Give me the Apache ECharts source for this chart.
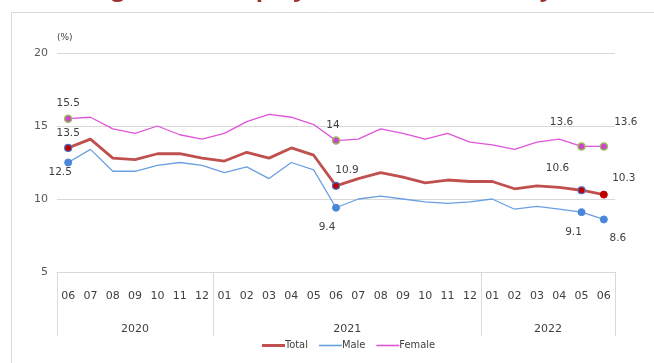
<!DOCTYPE html>
<html>
<head>
<meta charset="utf-8">
<script src="https://cdn.jsdelivr.net/npm/echarts@6/dist/echarts.min.js"></script>
<style>
  html, body { margin: 0; padding: 0; background: #ffffff; }
  #chart { width: 654px; height: 363px; }
</style>
</head>
<body>
<div id="chart"></div>
<script>
// Month labels (June 2020 – June 2022) and the year groups below them
const months = ['06','07','08','09','10','11','12','01','02','03','04','05','06','07','08','09','10','11','12','01','02','03','04','05','06'];
const years = ['2020', '2021', '2022'];
const yearSpans = [7, 12, 6];

// Unemployment rate, %
const total  = [13.5, 14.1, 12.8, 12.7, 13.1, 13.1, 12.8, 12.6, 13.2, 12.8, 13.5, 13.0, 10.9, 11.4, 11.8, 11.5, 11.1, 11.3, 11.2, 11.2, 10.7, 10.9, 10.8, 10.6, 10.3];
const male   = [12.5, 13.4, 11.9, 11.9, 12.3, 12.5, 12.3, 11.8, 12.2, 11.4, 12.5, 12.0, 9.4, 10.0, 10.2, 10.0, 9.8, 9.7, 9.8, 10.0, 9.3, 9.5, 9.3, 9.1, 8.6];
const female = [15.5, 15.6, 14.8, 14.5, 15.0, 14.4, 14.1, 14.5, 15.3, 15.8, 15.6, 15.1, 14.0, 14.1, 14.8, 14.5, 14.1, 14.5, 13.9, 13.7, 13.4, 13.9, 14.1, 13.6, 13.6];

// Months whose values are marked and labelled
const labelled = [0, 12, 23, 24];

// Value-axis ticks
const yMin = 5, yMax = 20, yStep = 5;

// Label offsets (px) around each marked point
const totalOffsets  = [[0, -15], [11, -16], [-24, -22], [20, -16]];
const maleOffsets   = [[-8, 10], [-9, 20], [-8, 20], [14, 19]];
const femaleOffsets = [[0, -15], [-3, -15], [-20, -24], [22, -24]];

const LABEL_FONT = 'DejaVu Sans';

function buildData(values, offsets, markerStyles) {
  return values.map(function (v, i) {
    const k = labelled.indexOf(i);
    if (k < 0) return v;
    return {
      value: v,
      symbol: 'circle',
      symbolSize: 7,
      itemStyle: markerStyles[k],
      label: {
        show: true,
        position: 'inside',
        offset: offsets[k],
        formatter: '{c}',
        color: '#404040',
        fontFamily: LABEL_FONT,
        fontSize: 10.5
      }
    };
  });
}

const redDot  = { color: '#C00000', borderColor: '#4472C4', borderWidth: 1.2 };
const redEnd  = { color: '#C00000', borderColor: '#C00000', borderWidth: 1 };
const blueDot = { color: '#4A86D8', borderColor: '#4A86D8', borderWidth: 1 };
const pinkDot = { color: '#CC44CC', borderColor: '#9BBB59', borderWidth: 1.5 };

// Year axis: half-month positions so group edges and group centres fall on categories
const halfSlots = months.length * 2 + 1;
const yearCats = new Array(halfSlots).fill('');
const edgeSlots = [0];
let acc = 0;
yearSpans.forEach(function (span, i) {
  yearCats[acc * 2 + span] = years[i];
  acc += span;
  edgeSlots.push(acc * 2);
});

const chart = echarts.init(document.getElementById('chart'), null, { renderer: 'canvas' });

chart.setOption({
  animation: false,
  backgroundColor: '#ffffff',
  title: {
    text: 'Changes in unemployment rates, monthly',
    left: 45,
    top: -28,
    textStyle: { color: '#A0302E', fontSize: 24, fontWeight: 'bold', fontFamily: 'Open Sans' }
  },
  graphic: [
    {
      type: 'polyline',
      silent: true,
      shape: { points: [[11.5, 363], [11.5, 12.5], [654, 12.5]] },
      style: { stroke: '#D9D9D9', lineWidth: 1, fill: null }
    }
  ],
  grid: { left: 57, right: 39, top: 53, bottom: 91, containLabel: false },
  legend: {
    bottom: 7,
    left: 257,
    itemWidth: 23,
    itemHeight: 10,
    itemGap: 11,
    textStyle: { color: '#404040', fontSize: 11, fontFamily: 'DejaVu Sans Condensed', padding: [0, 0, 0, -5] },
    data: [
      { name: 'Total', icon: 'path://M0,0 H23 V3 H0 Z' },
      { name: 'Male', icon: 'path://M0,0 H23 V1.6 H0 Z' },
      { name: 'Female', icon: 'path://M0,0 H23 V1.6 H0 Z' }
    ]
  },
  xAxis: [
    {
      type: 'category',
      data: months,
      position: 'bottom',
      boundaryGap: true,
      axisLine: { show: true, lineStyle: { color: '#D9D9D9', width: 1 } },
      axisTick: { show: false },
      axisLabel: { interval: 0, margin: 19, color: '#404040', fontSize: 11, fontFamily: LABEL_FONT },
      splitLine: { show: false }
    },
    {
      type: 'category',
      data: yearCats,
      position: 'bottom',
      boundaryGap: false,
      axisLine: { show: false },
      axisTick: {
        show: true,
        length: 64,
        interval: function (idx) { return edgeSlots.indexOf(idx) >= 0; },
        lineStyle: { color: '#D9D9D9', width: 1 }
      },
      axisLabel: {
        interval: function (idx, val) { return val !== ''; },
        margin: 52,
        color: '#404040',
        fontSize: 11,
        fontFamily: LABEL_FONT
      },
      splitLine: { show: false }
    }
  ],
  yAxis: {
    type: 'value',
    min: yMin,
    max: yMax,
    interval: yStep,
    name: '(%)',
    nameLocation: 'end',
    nameGap: 11,
    nameTextStyle: { color: '#404040', fontSize: 9, fontFamily: LABEL_FONT, align: 'left' },
    axisLine: { show: false },
    axisTick: { show: false },
    axisLabel: { margin: 9, color: '#595959', fontSize: 11, fontFamily: LABEL_FONT },
    splitLine: { show: true, lineStyle: { color: '#D9D9D9', width: 1 } }
  },
  series: [
    {
      name: 'Total',
      type: 'line',
      xAxisIndex: 0,
      symbol: 'none',
      lineStyle: { color: '#C0504D', width: 2.8 },
      itemStyle: { color: '#C0504D' },
      z: 4,
      data: buildData(total, totalOffsets, [redDot, redDot, redDot, redEnd])
    },
    {
      name: 'Male',
      type: 'line',
      xAxisIndex: 0,
      symbol: 'none',
      lineStyle: { color: '#6A9FE0', width: 1.3 },
      itemStyle: { color: '#6A9FE0' },
      z: 3,
      data: buildData(male, maleOffsets, [blueDot, blueDot, blueDot, blueDot])
    },
    {
      name: 'Female',
      type: 'line',
      xAxisIndex: 0,
      symbol: 'none',
      lineStyle: { color: '#E055D8', width: 1.3 },
      itemStyle: { color: '#E055D8' },
      z: 3,
      data: buildData(female, femaleOffsets, [pinkDot, pinkDot, pinkDot, pinkDot])
    }
  ]
});
</script>
</body>
</html>
